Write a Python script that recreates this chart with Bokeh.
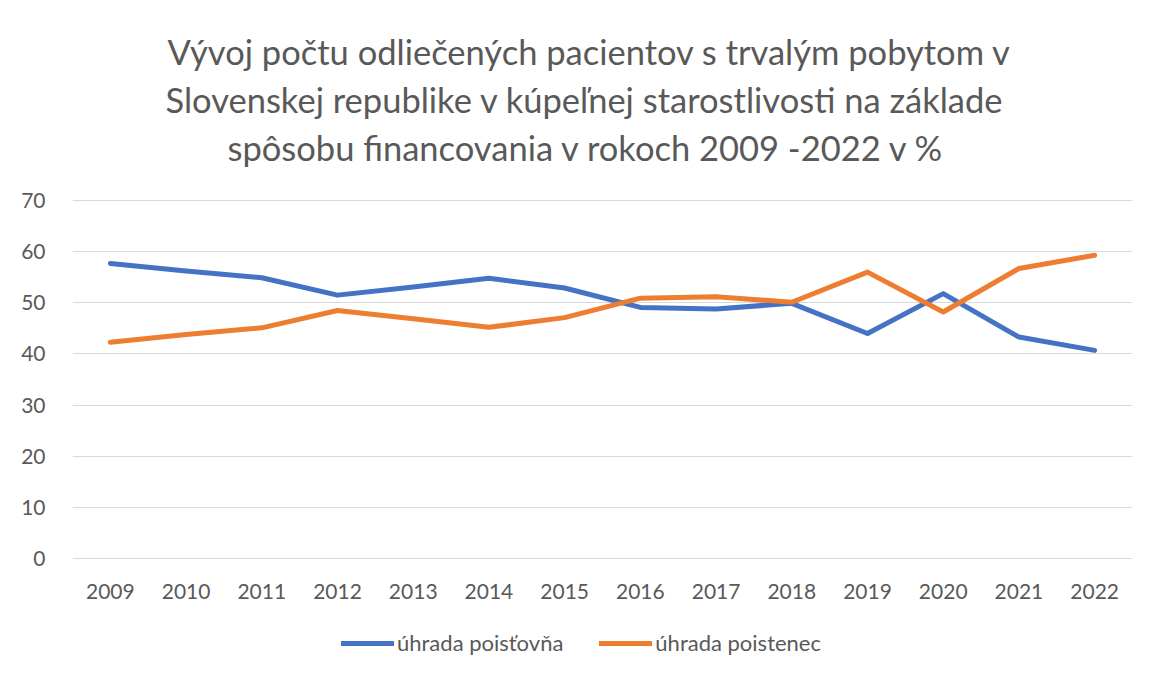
from bokeh.plotting import figure
from bokeh.layouts import column
from bokeh.models import ColumnDataSource, FactorRange, Range1d, Legend, LegendItem, SingleIntervalTicker, Title
from bokeh.embed import file_html
from bokeh.resources import INLINE

years = ["2009", "2010", "2011", "2012", "2013", "2014", "2015",
         "2016", "2017", "2018", "2019", "2020", "2021", "2022"]
poistovna = [57.7, 56.2, 54.9, 51.5, 53.1, 54.8, 52.9, 49.1, 48.8, 49.9, 44.0, 51.8, 43.3, 40.7]
poistenec = [42.3, 43.8, 45.1, 48.5, 46.9, 45.2, 47.1, 50.9, 51.2, 50.1, 56.0, 48.2, 56.7, 59.3]
series_names = ["úhrada poisťovňa", "úhrada poistenec"]
title_lines = ["Vývoj počtu odliečených pacientov s trvalým pobytom v",
               "Slovenskej republike v kúpeľnej starostlivosti na základe",
               "spôsobu financovania v rokoch 2009 -2022 v %"]
colors = ["#4472C4", "#ED7D31"]

src = ColumnDataSource(dict(year=years, a=poistovna, b=poistenec))

FONT = "Lato"
GRAY = "#595959"

xr = FactorRange(*years)
p = figure(width=1149, height=608, x_range=xr, y_range=Range1d(-0.2, 70.2),
           output_backend="svg", toolbar_location=None, title=None,
           min_border_left=72, min_border_right=17, min_border_top=199, min_border_bottom=49)

# spacer between plot and title block
p.add_layout(Title(text=" ", text_font_size="24px", standoff=0), "above")
# left-aligned lines with per-line offsets from the frame's left edge (reverse order: nearest first)
line_offsets = [95, 93, 155]
for line, off in reversed(list(zip(title_lines, line_offsets))):
    t = Title(text=line, align="left", text_font=FONT, text_font_size="34.5px",
              text_font_style="normal", text_color=GRAY, standoff=5, offset=off)
    p.add_layout(t, "above")

p.line("year", "a", source=src, line_color=colors[0], line_width=5, line_join="round", line_cap="round")
p.line("year", "b", source=src, line_color=colors[1], line_width=5, line_join="round", line_cap="round")

p.outline_line_color = None
p.xgrid.grid_line_color = None
p.ygrid.grid_line_color = "#d9d9d9"
p.ygrid.grid_line_width = 1

p.yaxis.ticker = SingleIntervalTicker(interval=10)
for ax in (p.xaxis[0], p.yaxis[0]):
    ax.axis_line_color = None
    ax.major_tick_line_color = None
    ax.minor_tick_line_color = None
    ax.major_label_text_font = FONT
    ax.major_label_text_font_size = "21px"
    ax.major_label_text_color = GRAY
p.yaxis.major_label_standoff = 21
p.xaxis.major_label_standoff = 18

# legend strip below the chart (series drawn out of view, only legend shows)
p2 = figure(width=1149, height=68, x_range=xr, y_range=Range1d(1000, 1001),
            output_backend="svg", toolbar_location=None,
            min_border_left=0, min_border_right=0, min_border_top=0, min_border_bottom=0)
p2.axis.visible = False
p2.grid.grid_line_color = None
p2.outline_line_color = None
l1 = p2.line("year", "a", source=src, line_color=colors[0], line_width=5, line_cap="round")
l2 = p2.line("year", "b", source=src, line_color=colors[1], line_width=5, line_cap="round")
legend = Legend(items=[LegendItem(label=series_names[0], renderers=[l1]),
                       LegendItem(label=series_names[1], renderers=[l2])],
                orientation="horizontal", location=(269, 20),
                border_line_color=None, background_fill_alpha=0,
                label_text_font=FONT, label_text_font_size="22px", label_text_color=GRAY,
                glyph_width=53, label_standoff=3, spacing=36, margin=0, padding=5)
p2.add_layout(legend, "center")

layout = column(p, p2, spacing=0)
open("out.html", "w").write(file_html(layout, INLINE))
